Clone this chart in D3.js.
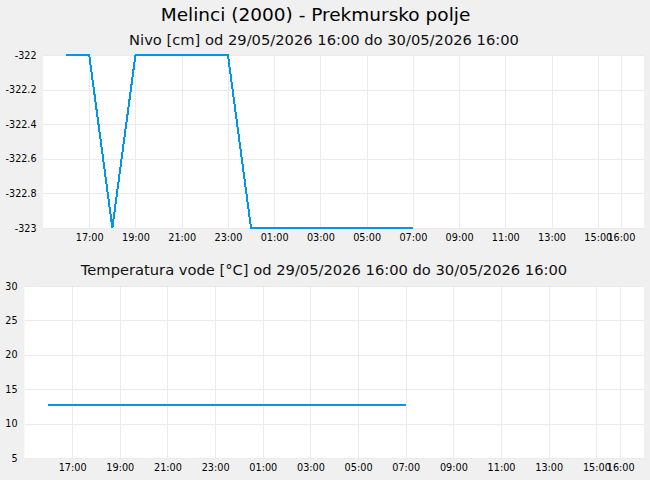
<!DOCTYPE html>
<html><head><meta charset="utf-8">
<script src="https://cdn.jsdelivr.net/npm/d3@7/dist/d3.min.js"></script>
<style>
html,body{margin:0;padding:0;background:#f0f0f0;}
svg{display:block;font-family:"DejaVu Sans",sans-serif;}
</style></head>
<body>
<svg id="c" width="650" height="480"></svg>
<script>
const title = "Melinci (2000) - Prekmursko polje";
const levelTitle = "Nivo [cm] od 29/05/2026 16:00 do 30/05/2026 16:00";
const tempTitle = "Temperatura vode [°C] od 29/05/2026 16:00 do 30/05/2026 16:00";

const times = ["29/05/2026 16:00","29/05/2026 17:00","29/05/2026 18:00","29/05/2026 19:00",
  "29/05/2026 20:00","29/05/2026 21:00","29/05/2026 22:00","29/05/2026 23:00",
  "30/05/2026 00:00","30/05/2026 01:00","30/05/2026 02:00","30/05/2026 03:00",
  "30/05/2026 04:00","30/05/2026 05:00","30/05/2026 06:00","30/05/2026 07:00"];
const levelValues = [-322,-322,-323,-322,-322,-322,-322,-322,-323,-323,-323,-323,-323,-323,-323,-323];
const tempValues = [12.7,12.7,12.7,12.7,12.7,12.7,12.7,12.7,12.7,12.7,12.7,12.7,12.7,12.7,12.7,12.7];

const xDomain = ["29/05/2026 15:00","30/05/2026 17:00"];
const xTicks = ["29/05/2026 17:00","29/05/2026 19:00","29/05/2026 21:00","29/05/2026 23:00",
  "30/05/2026 01:00","30/05/2026 03:00","30/05/2026 05:00","30/05/2026 07:00",
  "30/05/2026 09:00","30/05/2026 11:00","30/05/2026 13:00","30/05/2026 15:00","30/05/2026 16:00"];
const levelYTicks = [-323,-322.8,-322.6,-322.4,-322.2,-322];
const levelYLabels = ["-323","-322.8","-322.6","-322.4","-322.2","-322"];
const tempYTicks = [5,10,15,20,25,30];
const tempYLabels = ["5","10","15","20","25","30"];

const parse = d3.timeParse("%d/%m/%Y %H:%M");
const fmt = d3.timeFormat("%H:%M");
const svg = d3.select("#c");
const color = "#0096ee";

svg.append("text").attr("x",315.5).attr("y",20.5).attr("text-anchor","middle")
  .attr("font-size",18.5).attr("fill","#000").text(title);

function panel(opts){
  const {left,right,top,bottom,yTicks,yLabels,values,sub,subY} = opts;
  const x = d3.scaleTime().domain(xDomain.map(parse)).range([left,right]);
  const y = d3.scaleLinear().domain([yTicks[0],yTicks[yTicks.length-1]]).range([bottom,top]);
  svg.append("text").attr("x",324).attr("y",subY).attr("text-anchor","middle")
    .attr("font-size",14.7).attr("fill","#111").text(sub);
  svg.append("rect").attr("x",left).attr("y",top).attr("width",right-left).attr("height",bottom-top).attr("fill","#fff");
  // grid
  const g = svg.append("g").attr("shape-rendering","crispEdges");
  g.selectAll("line.v").data(xTicks.map(parse)).join("line")
    .attr("x1",d=>Math.round(x(d))+0.5).attr("x2",d=>Math.round(x(d))+0.5)
    .attr("y1",top).attr("y2",bottom).attr("stroke","#ebebeb");
  g.selectAll("line.h").data(yTicks).join("line").attr("class","h")
    .attr("y1",d=>Math.round(y(d))+0.5).attr("y2",d=>Math.round(y(d))+0.5)
    .attr("x1",left).attr("x2",right).attr("stroke","#ebebeb");
  // axes
  const ax = svg.append("g").attr("transform",`translate(0,${bottom})`)
    .call(d3.axisBottom(x).tickValues(xTicks.map(parse)).tickFormat(fmt).tickSize(0).tickPadding(6.5));
  ax.select(".domain").remove();
  ax.selectAll("text").attr("font-size",9.7).attr("fill","#000").attr("font-family","DejaVu Sans");
  const ay = svg.append("g").attr("transform",`translate(${left},0)`)
    .call(d3.axisLeft(y).tickValues(yTicks).tickFormat((d,i)=>yLabels[i]).tickSize(0).tickPadding(opts.pad));
  ay.select(".domain").remove();
  ay.selectAll("text").attr("font-size",9.6).attr("fill","#000").attr("font-family","DejaVu Sans");
  // line
  const data = times.map((t,i)=>({t:parse(t),v:values[i]}));
  svg.append("path").datum(data).attr("fill","none").attr("stroke",color).attr("stroke-width",2)
    .attr("shape-rendering","crispEdges")
    .attr("d",d3.line().x(d=>x(d.t)).y(d=>y(d.v)));
}

panel({left:43,right:644,top:55,bottom:228,yTicks:levelYTicks,yLabels:levelYLabels,values:levelValues,sub:levelTitle,subY:45,pad:6.5});
panel({left:24.5,right:644,top:286,bottom:458,yTicks:tempYTicks,yLabels:tempYLabels,values:tempValues,sub:tempTitle,subY:275,pad:7});
</script>
</body></html>
